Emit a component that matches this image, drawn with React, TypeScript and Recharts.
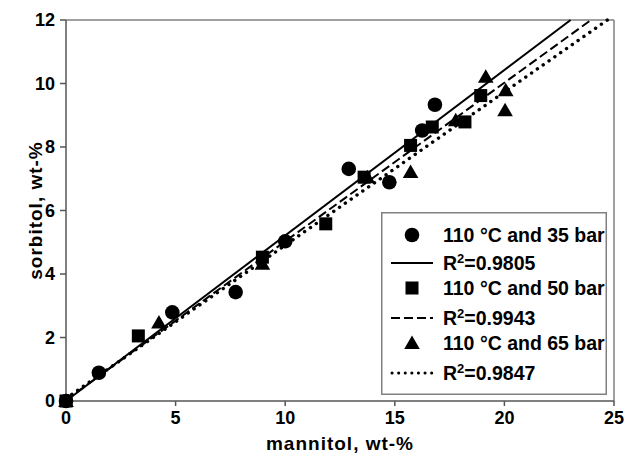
import React from "react";
import { ComposedChart, Scatter, Line, XAxis, YAxis, ReferenceLine, Label } from "recharts";

const circle35X = [0, 1.5, 4.85, 7.74, 10.0, 12.9, 14.75, 16.25, 16.83];
const circle35Y = [0, 0.89, 2.79, 3.43, 5.03, 7.31, 6.89, 8.52, 9.33];
const square50X = [0, 3.3, 8.96, 11.85, 13.6, 15.72, 16.71, 18.2, 18.92];
const square50Y = [0, 2.05, 4.53, 5.58, 7.05, 8.05, 8.63, 8.79, 9.62];
const tri65X = [0, 4.24, 8.96, 13.75, 15.72, 17.78, 19.15, 20.06, 20.03];
const tri65Y = [0, 2.47, 4.32, 7.05, 7.21, 8.84, 10.21, 9.79, 9.16];

const fit35X = [0, 23.02];
const fit35Y = [0, 12];
const fit50X = [0, 23.95];
const fit50Y = [0.03, 12];
const fit65X = [0, 24.7];
const fit65Y = [0.08, 12];

const xTicks = [0, 5, 10, 15, 20, 25];
const yTicks = [0, 2, 4, 6, 8, 10, 12];

const legendLabels = [
  "110 °C and 35 bar",
  "0.9805",
  "110 °C and 50 bar",
  "0.9943",
  "110 °C and 65 bar",
  "0.9847",
];

const zip = (xs: number[], ys: number[]) => xs.map((x, i) => ({ x, y: ys[i] }));

const FONT = "'Liberation Sans', Arial, Helvetica, sans-serif";
const AXIS = "#555";

const CircleShape = (p: any) => <circle cx={p.cx} cy={p.cy} r={7.3} fill="#000" />;
const SquareShape = (p: any) => <rect x={p.cx - 6.5} y={p.cy - 6.5} width={13} height={13} fill="#000" />;
const TriShape = (p: any) => (
  <polygon points={`${p.cx},${p.cy - 7.5} ${p.cx + 7.8},${p.cy + 6} ${p.cx - 7.8},${p.cy + 6}`} fill="#000" />
);

const LegendBox = () => {
  const rows = [23, 51, 76, 106, 131, 161];
  const fs = 19.5;
  const text = (y: number, s: string) => (
    <text x={62} y={y + 7} fontSize={fs} fontWeight="bold" fontFamily={FONT} fill="#000">
      {s}
    </text>
  );
  const r2 = (y: number, s: string) => (
    <text x={62} y={y + 7} fontSize={fs} fontWeight="bold" fontFamily={FONT} fill="#000">
      R<tspan dy={-7} fontSize={13}>2</tspan>
      <tspan dy={7}>={s}</tspan>
    </text>
  );
  return (
    <svg width={226} height={183} style={{ position: "absolute", left: 381, top: 212 }}>
      <rect x={0.75} y={0.75} width={224.5} height={181.5} fill="#fff" stroke="#808080" strokeWidth={1.5} />
      <circle cx={31} cy={rows[0]} r={7.3} fill="#000" />
      {text(rows[0], legendLabels[0])}
      <line x1={10} x2={52} y1={rows[1]} y2={rows[1]} stroke="#000" strokeWidth={2} />
      {r2(rows[1], legendLabels[1])}
      <rect x={31 - 6.5} y={rows[2] - 6.5} width={13} height={13} fill="#000" />
      {text(rows[2], legendLabels[2])}
      <line x1={10} x2={52} y1={rows[3]} y2={rows[3]} stroke="#000" strokeWidth={2} strokeDasharray="9 4" />
      {r2(rows[3], legendLabels[3])}
      <polygon points={`31,${rows[4] - 7.5} 38.8,${rows[4] + 6} 23.2,${rows[4] + 6}`} fill="#000" />
      {text(rows[4], legendLabels[4])}
      <line
        x1={11}
        x2={52}
        y1={rows[5]}
        y2={rows[5]}
        stroke="#000"
        strokeWidth={3}
        strokeDasharray="0.1 6.5"
        strokeLinecap="round"
      />
      {r2(rows[5], legendLabels[5])}
    </svg>
  );
};

export default function App() {
  const tickStyle = { fontSize: 18, fontWeight: "bold", fontFamily: FONT, fill: "#000" } as any;
  const titleStyle = {
    fontSize: 19,
    fontWeight: "bold",
    fontFamily: FONT,
    fill: "#000",
    letterSpacing: 1,
    textAnchor: "middle",
  } as any;
  return (
    <div style={{ position: "absolute", left: 0, top: 0, width: 626, height: 454, fontFamily: FONT }}>
      <ComposedChart width={626} height={454} margin={{ top: 20, right: 12, left: 0, bottom: 0 }}>
        <XAxis
          type="number"
          dataKey="x"
          domain={[0, 25]}
          ticks={xTicks}
          tick={tickStyle}
          tickSize={5}
          tickMargin={5}
          height={53}
          stroke={AXIS}
          strokeWidth={1.5}
        >
          <Label value="mannitol, wt-%" position="insideBottom" offset={4} style={titleStyle} />
        </XAxis>
        <YAxis
          type="number"
          dataKey="y"
          domain={[0, 12]}
          ticks={yTicks}
          tick={tickStyle}
          tickSize={6}
          tickMargin={5}
          width={66}
          stroke={AXIS}
          strokeWidth={1.5}
        >
          <Label value="sorbitol, wt-%" angle={-90} position="insideLeft" offset={35} style={titleStyle} />
        </YAxis>
        <ReferenceLine y={12} stroke="#808080" strokeWidth={1.5} />
        <ReferenceLine x={25} stroke="#808080" strokeWidth={1.5} />
        <Line
          data={zip(fit35X, fit35Y)}
          dataKey="y"
          stroke="#000"
          strokeWidth={2}
          dot={false}
          activeDot={false}
          isAnimationActive={false}
        />
        <Line
          data={zip(fit50X, fit50Y)}
          dataKey="y"
          stroke="#000"
          strokeWidth={2}
          strokeDasharray="9 4"
          dot={false}
          activeDot={false}
          isAnimationActive={false}
        />
        <Line
          data={zip(fit65X, fit65Y)}
          dataKey="y"
          stroke="#000"
          strokeWidth={3.4}
          strokeDasharray="0.1 7"
          strokeLinecap="round"
          dot={false}
          activeDot={false}
          isAnimationActive={false}
        />
        <Scatter data={zip(circle35X, circle35Y)} shape={CircleShape} isAnimationActive={false} />
        <Scatter data={zip(square50X, square50Y)} shape={SquareShape} isAnimationActive={false} />
        <Scatter data={zip(tri65X, tri65Y)} shape={TriShape} isAnimationActive={false} />
      </ComposedChart>
      <LegendBox />
    </div>
  );
}
